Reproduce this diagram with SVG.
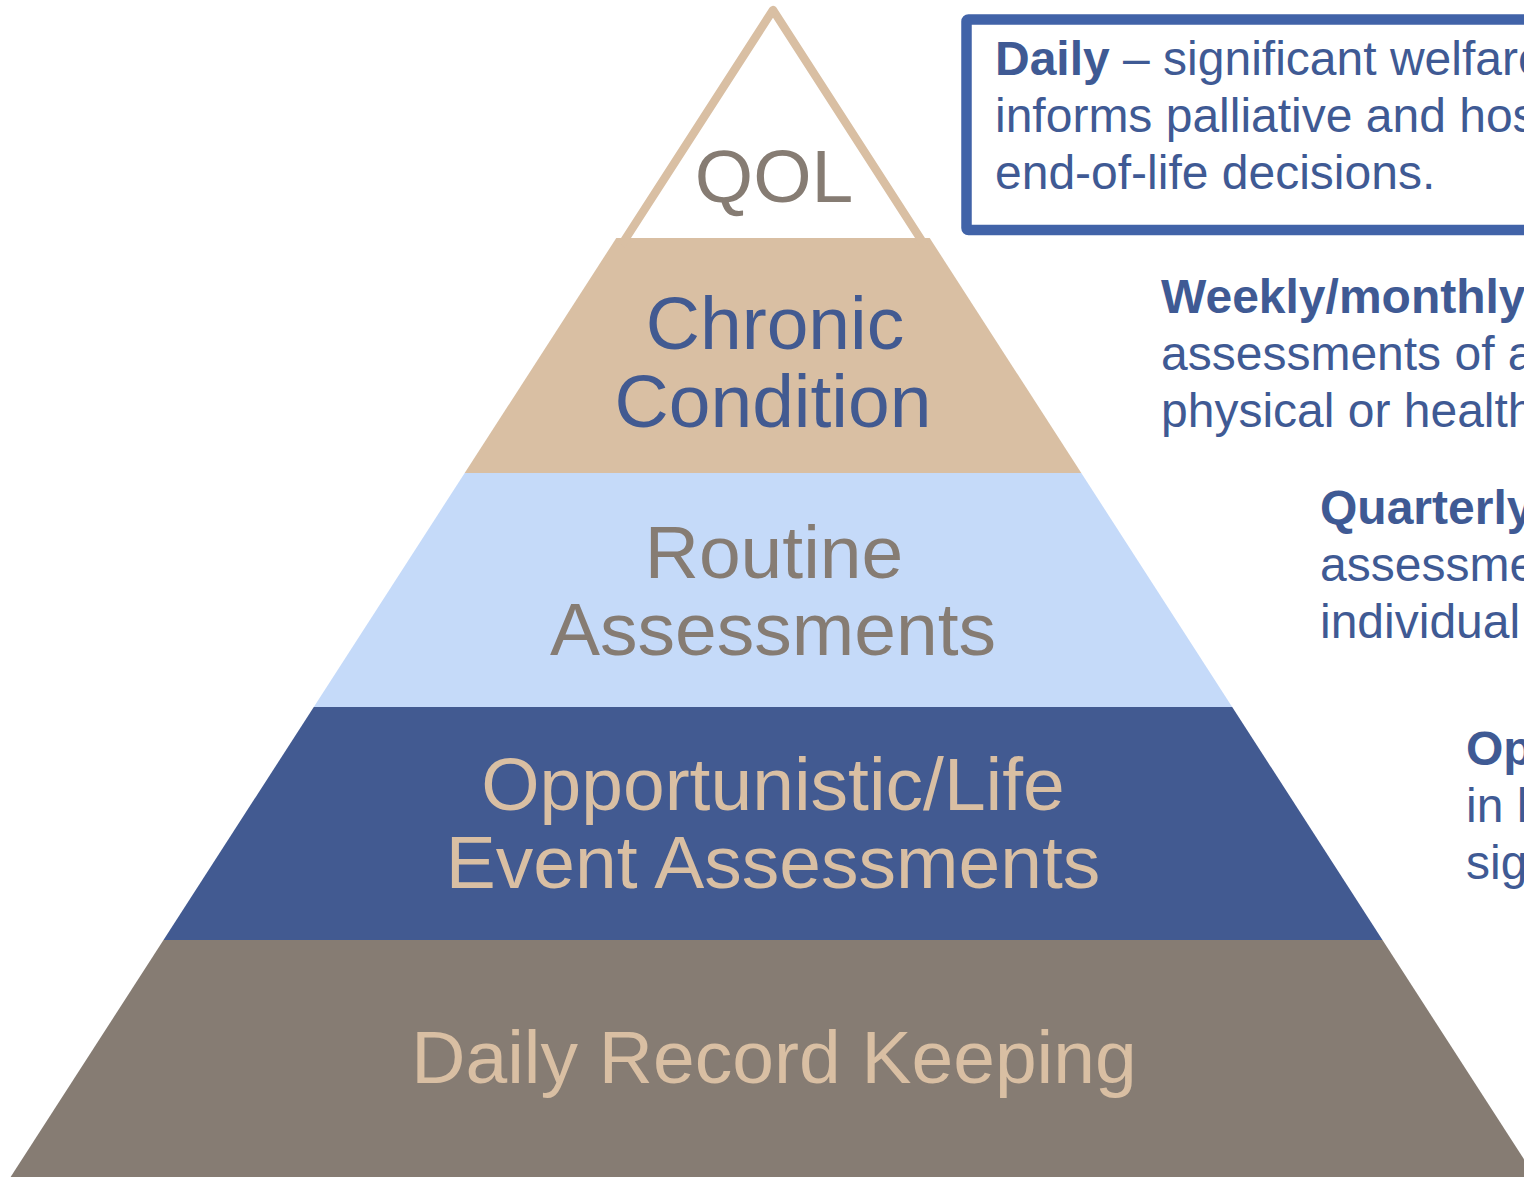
<svg xmlns="http://www.w3.org/2000/svg" width="1524" height="1179" viewBox="0 0 1524 1179">
<style>
.lbl{font-family:"Liberation Sans",Arial,sans-serif;font-size:75px;text-anchor:middle}
.side{font-family:"Liberation Sans",Arial,sans-serif;font-size:48px;fill:#3F5A94}
.b{font-weight:bold}
</style>
<rect width="1524" height="1179" fill="#ffffff"/>
<g id="layer-daily-record">
<polygon points="163.5,940 1382.5,940 1535.4,1177 10.6,1177" fill="#867C73"/>
<text class="lbl" x="774" y="1083" fill="#D9BFA3">Daily Record Keeping</text>
</g>
<g id="layer-opportunistic">
<polygon points="313.8,707 1232.2,707 1382.5,940 163.5,940" fill="#425A91"/>
<text class="lbl" x="773" y="810" fill="#D9BFA3">Opportunistic/Life</text>
<text class="lbl" x="773" y="888" fill="#D9BFA3">Event Assessments</text>
</g>
<g id="layer-routine">
<polygon points="464.7,473 1081.3,473 1232.2,707 313.8,707" fill="#C5DAF9"/>
<text class="lbl" x="774" y="578" fill="#867C73">Routine</text>
<text class="lbl" x="773" y="655" fill="#867C73">Assessments</text>
</g>
<g id="layer-chronic">
<polygon points="616.3,238 929.7,238 1081.3,473 464.7,473" fill="#D9BFA3"/>
<text class="lbl" x="775" y="349" fill="#425A91">Chronic</text>
<text class="lbl" x="773" y="427" fill="#425A91">Condition</text>
</g>
<g id="layer-qol">
<polygon points="773,10 626,238 920,238" fill="#ffffff"/>
<polyline points="621.5,245 773,10 924.5,245" fill="none" stroke="#D9BFA3" stroke-width="8.4" stroke-linejoin="round"/>
<text class="lbl" x="774" y="202" fill="#867C73">QOL</text>
</g>
<g id="note-daily">
<rect x="966.5" y="19.5" width="600" height="210.5" rx="2" fill="#ffffff" stroke="#4163A8" stroke-width="10.5"/>
<text class="side" x="995" y="75"><tspan class="b">Daily</tspan> – significant welfare</text>
<text class="side" x="995" y="132">informs palliative and hospice</text>
<text class="side" x="995" y="189">end-of-life decisions.</text>
</g>
<g id="note-weekly">
<text class="side b" x="1161" y="313">Weekly/monthly</text>
<text class="side" x="1161" y="370">assessments of a</text>
<text class="side" x="1161" y="427">physical or health</text>
</g>
<g id="note-quarterly">
<text class="side b" x="1320" y="524">Quarterly</text>
<text class="side" x="1320" y="581">assessments</text>
<text class="side" x="1320" y="638">individual</text>
</g>
<g id="note-opportunistic">
<text class="side b" x="1466" y="765">Op</text>
<text class="side" x="1466" y="822">in h</text>
<text class="side" x="1466" y="879">sig</text>
</g>
<g id="connectors"></g>
</svg>
